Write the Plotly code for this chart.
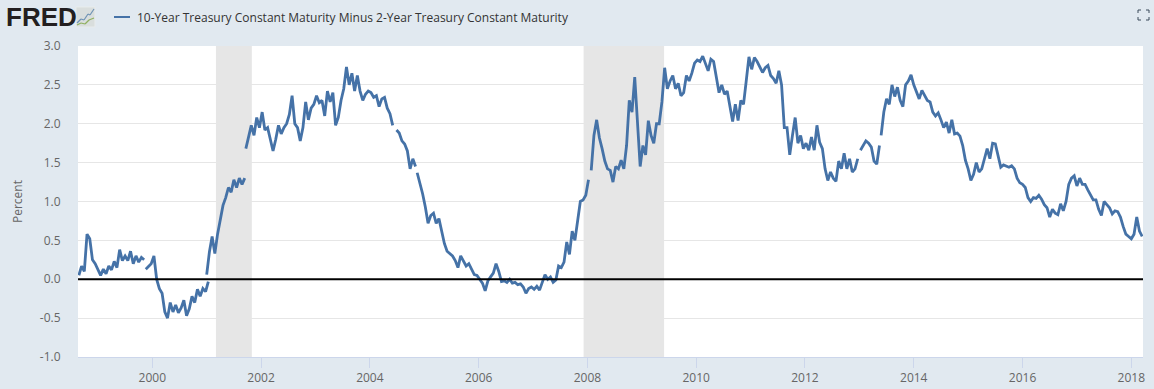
import plotly.graph_objects as go

W, H = 1154, 389
L, R, T, B = 78, 11, 46, 32

STEP = 0.05
seg_a_start = 1998.65
seg_a = [.05, .17, .1, .58, .52, .25, .2,
         .12, .05, .13, .07, .17, .12, .23, .15, .38, .24, .30, .24, .36, .2, .3, .22, .28, .25]
seg_b_start = 1999.88
seg_b = [.13, .16, .2, .3, .0, -.12, -.18, -.42, -.5, -.3, -.42, -.33, -.43, -.37, -.27, -.47, -.38,
         -.22, -.3, -.13, -.22, -.12, -.16, -.03]
seg_c_start = 2001.00
seg_c = [.06, .35, .55, .33, .58, .75, .95, 1.05, 1.18, 1.12, 1.28, 1.18, 1.3, 1.22, 1.3]
seg_d_start = 2001.72
seg_d = [1.68, 1.85, 1.98, 1.85, 2.08, 1.95, 2.15, 1.92, 1.95, 1.8, 1.65, 1.8, 1.98, 1.87, 1.95, 2.0,
         2.12, 2.36, 2.0, 1.95, 1.78, 1.95, 2.28, 2.05, 2.2, 2.25, 2.36, 2.27, 2.3, 2.1, 2.42, 2.28,
         2.4, 1.98, 2.08, 2.3, 2.45, 2.73, 2.5, 2.65, 2.42, 2.62, 2.42, 2.3, 2.38, 2.42, 2.4, 2.34,
         2.36, 2.22, 2.32, 2.34, 2.2, 2.13, 1.98]
seg_e_start = 2004.49
seg_e = [1.92, 1.88, 1.78, 1.74, 1.65, 1.42, 1.55, 1.45]
seg_f_start = 2004.87
seg_f = [1.37, 1.25, 1.1, .93, .72, .82, .85, .72, .78, .62, .46, .36, .33, .3, .24, .15, .3, .24, .17,
         .2, .12, .06, .05, .0, -.05, -.15, -.02, .03, .08, .2, .1, -.03, -.02, -.04, .0, -.05, -.04,
         -.07, -.06, -.1, -.18, -.12, -.1, -.13, -.09, -.14, -.04, .06, .0, .03, -.04, -.01, .17, .15,
         .22, .48, .32, .62, .5, .72, 1.0, 1.02, 1.08, 1.28]
seg_g_start = 2008.07
seg_g = [1.4, 1.85, 2.05, 1.82, 1.68, 1.52, 1.42, 1.4, 1.25, 1.45, 1.42, 1.53, 1.42, 1.72, 2.3, 2.15,
         2.6, 1.95, 1.45, 1.72, 1.6, 2.04, 1.85, 1.75, 2.0, 2.0, 2.28, 2.72, 2.45, 2.55, 2.62, 2.45,
         2.52, 2.36, 2.4, 2.62, 2.55, 2.65, 2.78, 2.82, 2.8, 2.87, 2.78, 2.68, 2.83, 2.8, 2.6, 2.4,
         2.5, 2.38, 2.42, 2.2, 2.03, 2.25, 2.04, 2.3, 2.25, 2.55, 2.86, 2.7, 2.85, 2.8, 2.72, 2.66,
         2.72, 2.75, 2.62, 2.58, 2.52, 2.68, 2.5, 1.95, 1.95, 1.6, 1.85, 2.08, 1.75, 1.85, 1.68, 1.75,
         1.66, 1.83, 1.66, 1.98, 1.76, 1.68, 1.42, 1.27, 1.38, 1.3, 1.26, 1.52, 1.42, 1.62, 1.42, 1.55,
         1.38, 1.42, 1.55]
seg_h_start = 2013.02
seg_h = [1.66, 1.72, 1.78, 1.75, 1.7, 1.52, 1.48, 1.72]
seg_i_start = 2013.40
seg_i = [1.85, 2.15, 2.32, 2.25, 2.5, 2.35, 2.47, 2.3, 2.22, 2.5, 2.55, 2.63, 2.5, 2.4, 2.32, 2.43, 2.36,
         2.3, 2.28, 2.15, 2.1, 2.14, 2.05, 1.95, 2.02, 1.88, 2.05, 1.87, 1.88, 1.84, 1.72, 1.53, 1.42,
         1.27, 1.35, 1.5, 1.38, 1.42, 1.55, 1.68, 1.55, 1.75, 1.74, 1.6, 1.44, 1.47, 1.46, 1.44, 1.46,
         1.42, 1.3, 1.24, 1.22, 1.18, 1.05, 1.0, 1.05, 1.04, 1.08, 1.03, .96, .92, .8, .9, .85, .83,
         .97, .88, 1.0, 1.22, 1.3, 1.33, 1.2, 1.3, 1.22, 1.22, 1.15, 1.08, 1.02, 1.02, .9, .82, 1.0,
         .96, .92, .84, .88, .87, .8, .68, .58, .55, .52, .58, .8, .62, .55]

segments = [(seg_a_start, seg_a), (seg_b_start, seg_b), (seg_c_start, seg_c), (seg_d_start, seg_d),
            (seg_e_start, seg_e), (seg_f_start, seg_f), (seg_g_start, seg_g), (seg_h_start, seg_h),
            (seg_i_start, seg_i)]

recessions = [(2001.17, 2001.83), (2007.93, 2009.41)]
y_ticks = [-1.0, -0.5, 0.0, 0.5, 1.0, 1.5, 2.0, 2.5, 3.0]
x_ticks = list(range(2000, 2019, 2))

series_name = "10-Year Treasury Constant Maturity Minus 2-Year Treasury Constant Maturity"

xs, ys = [], []
for start, vals in segments:
    xs += [start + i * STEP for i in range(len(vals))] + [None]
    ys += list(vals) + [None]

BG = "#e1e9f0"
FONT = "Open Sans"


def px(x):
    return (x - L) / (W - L - R)


def py(y):
    return (H - B - y) / (H - T - B)


def paper_line(x0, y0, x1, y1, color, width=1.0):
    return dict(type="line", xref="paper", yref="paper", x0=px(x0), y0=py(y0), x1=px(x1), y1=py(y1),
                line=dict(color=color, width=width))


fig = go.Figure()
fig.add_trace(go.Scatter(x=xs, y=ys, mode="lines", name=series_name,
                         line=dict(color="#4572a7", width=2.8), connectgaps=False, hoverinfo="skip"))

shapes = []
for a, b in recessions:
    shapes.append(dict(type="rect", xref="x", yref="paper", x0=a, x1=b, y0=0, y1=1,
                       fillcolor="#e6e6e6", line_width=0, layer="below"))
shapes.append(dict(type="line", xref="paper", yref="y", x0=0, x1=1, y0=0, y1=0,
                   line=dict(color="#000000", width=2.2), layer="above"))

# legend swatch
shapes.append(paper_line(114, 17, 130, 17, "#4572a7", 2))

# FRED icon
shapes.append(dict(type="rect", xref="paper", yref="paper", x0=px(76), x1=px(95), y0=py(27), y1=py(7),
                   fillcolor="#d9dedd", line=dict(color="#e8ecec", width=1)))
for pts, col in (([(77, 23), (81, 19), (84, 20), (88, 14), (90, 15), (94, 9)], "#6f93b5"),
                 ([(77, 25), (81, 23), (85, 24), (89, 20), (94, 18)], "#8fb060")):
    for (x0, y0), (x1, y1) in zip(pts, pts[1:]):
        shapes.append(paper_line(x0, y0, x1, y1, col, 1.2))

# fullscreen icon
for seg in [(1138, 10, 1141, 10), (1138, 10, 1138, 13), (1146, 10, 1149, 10), (1149, 10, 1149, 13),
            (1138, 20, 1141, 20), (1138, 17, 1138, 20), (1146, 20, 1149, 20), (1149, 17, 1149, 20)]:
    shapes.append(paper_line(*seg, "#3a4a5a", 1))

annotations = [
    dict(text="<b>FRED</b>", xref="paper", yref="paper", x=px(4), y=py(17), xanchor="left", yanchor="middle",
         showarrow=False, font=dict(family="Liberation Sans", size=26, color="#231f20")),
    dict(text=series_name, xref="paper", yref="paper", x=px(135), y=py(17), xanchor="left", yanchor="middle",
         showarrow=False, font=dict(family=FONT, size=12, color="#333333")),
    dict(text="Percent", xref="paper", yref="paper", x=px(17), y=py(202), xanchor="center", yanchor="middle",
         textangle=-90, showarrow=False, font=dict(family=FONT, size=12, color="#666666")),
]

fig.update_layout(
    width=W, height=H, autosize=False,
    margin=dict(l=L, r=R, t=T, b=B, pad=0, autoexpand=False),
    paper_bgcolor=BG, plot_bgcolor="#ffffff",
    showlegend=False, shapes=shapes, annotations=annotations,
    font=dict(family=FONT, size=12, color="#666666"),
    xaxis=dict(range=[1998.634, 2018.215], tickmode="array", tickvals=x_ticks, ticktext=[str(t) for t in x_ticks],
               showgrid=False, zeroline=False, showline=True, linecolor="#ccd6eb", linewidth=1,
               ticks="outside", ticklen=10, tickcolor="#ccd6eb", tickwidth=1, automargin=False),
    yaxis=dict(range=[-1, 3], tickmode="array", tickvals=y_ticks, ticktext=[f"{t:.1f}" for t in y_ticks],
               showgrid=True, gridcolor="#e6e6e6", gridwidth=1, zeroline=False, showline=False,
               ticks="outside", ticklen=14, tickcolor="rgba(0,0,0,0)", automargin=False),
)

fig.write_html("out.html", config={"displayModeBar": False},
               post_script="document.body.style.margin='0';document.body.style.overflow='hidden';")
